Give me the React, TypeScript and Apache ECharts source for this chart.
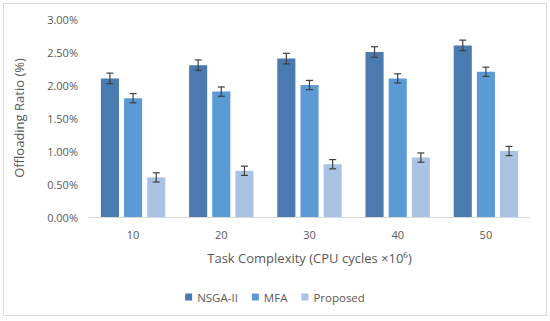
import React, { useEffect, useRef } from "react";
import * as echarts from "echarts";

const categories = ["10", "20", "30", "40", "50"];
const seriesNames = ["NSGA-II", "MFA", "Proposed"];
const nsgaValues = [2.1, 2.3, 2.4, 2.5, 2.6];
const mfaValues = [1.8, 1.9, 2.0, 2.1, 2.2];
const proposedValues = [0.6, 0.7, 0.8, 0.9, 1.0];
const nsgaErrors = [0.08, 0.08, 0.08, 0.08, 0.08];
const mfaErrors = [0.07, 0.07, 0.07, 0.07, 0.07];
const proposedErrors = [0.07, 0.07, 0.07, 0.07, 0.07];
const colors = ["#4a7bb0", "#5b9bd5", "#a9c3e5"];

const CAT_GAP = 0.27;
const BAR_GAP = 0.28;

export default function App() {
  const ref = useRef<HTMLDivElement>(null);
  useEffect(() => {
    document.body.style.margin = "0";
    if (!ref.current) return;
    const chart = echarts.init(ref.current, null, { renderer: "svg" });
    const values = [nsgaValues, mfaValues, proposedValues];
    const errors = [nsgaErrors, mfaErrors, proposedErrors];
    const font = "'Open Sans', sans-serif";

    const barSeries = seriesNames.map((name, i) => ({
      name,
      type: "bar",
      data: values[i],
      itemStyle: { color: colors[i] },
      barGap: `${BAR_GAP * 100}%`,
      barCategoryGap: `${CAT_GAP * 100}%`,
    }));

    const errSeries = seriesNames.map((name, i) => ({
      name: name + " err",
      type: "custom",
      z: 10,
      data: values[i].map((v, j) => [j, v, errors[i][j]]),
      renderItem: (params: any, api: any) => {
        const idx = api.value(0);
        const v = api.value(1);
        const e = api.value(2);
        const band = api.size([1, 0])[0];
        const n = 3;
        const bw = (band * (1 - CAT_GAP)) / (n + (n - 1) * BAR_GAP);
        const offset = (i - (n - 1) / 2) * bw * (1 + BAR_GAP);
        const top = api.coord([idx, v + e]);
        const bot = api.coord([idx, v - e]);
        const x = top[0] + offset;
        const cap = 3.5;
        const style = { stroke: "#404040", lineWidth: 1.2 };
        return {
          type: "group",
          children: [
            { type: "line", shape: { x1: x, y1: top[1], x2: x, y2: bot[1] }, style },
            { type: "line", shape: { x1: x - cap, y1: top[1], x2: x + cap, y2: top[1] }, style },
            { type: "line", shape: { x1: x - cap, y1: bot[1], x2: x + cap, y2: bot[1] }, style },
          ],
        };
      },
    }));

    chart.setOption({
      animation: false,
      textStyle: { fontFamily: font },
      graphic: [
        {
          type: "rect",
          shape: { x: 3.5, y: 3.5, width: 543, height: 312 },
          style: { fill: "#ffffff", stroke: "#d9d9d9", lineWidth: 1 },
          z: -10,
        },
      ],
      grid: { left: 89, right: 20, top: 19, bottom: 104 },
      legend: {
        data: seriesNames,
        top: 286,
        left: "center",
        itemWidth: 7,
        itemHeight: 7,
        itemGap: 14,
        icon: "rect",
        textStyle: { fontSize: 11.5, color: "#595959", fontFamily: font },
      },
      xAxis: {
        type: "category",
        data: categories,
        name: "Task Complexity (CPU cycles ×10⁶)",
        nameLocation: "middle",
        nameGap: 34,
        nameTextStyle: { fontSize: 13, color: "#595959", fontFamily: font },
        axisLine: { lineStyle: { color: "#d9d9d9" } },
        axisTick: { show: false },
        axisLabel: { fontSize: 11, color: "#595959", margin: 12 },
      },
      yAxis: {
        type: "value",
        min: 0,
        max: 3,
        interval: 0.5,
        name: "Offloading Ratio (%)",
        nameLocation: "middle",
        nameGap: 64,
        nameTextStyle: { fontSize: 13, color: "#595959", fontFamily: font },
        axisLine: { show: false },
        axisTick: { show: false },
        splitLine: { show: false },
        axisLabel: {
          fontSize: 11,
          color: "#595959",
          margin: 11,
          formatter: (v: number) => v.toFixed(2) + "%",
        },
      },
      series: [...barSeries, ...errSeries],
    });
    return () => chart.dispose();
  }, []);
  return <div ref={ref} style={{ width: 550, height: 321 }} />;
}
